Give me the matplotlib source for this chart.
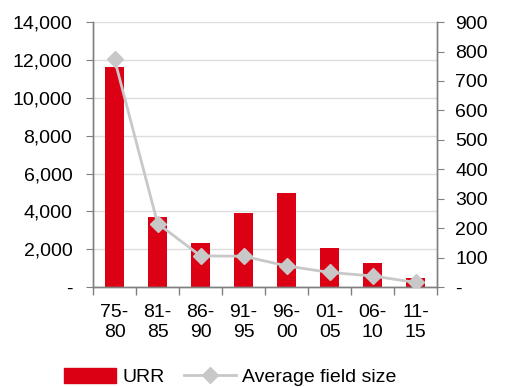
import numpy as np
import matplotlib.pyplot as plt
from matplotlib.ticker import FuncFormatter
from matplotlib.lines import Line2D
from matplotlib.patches import Patch

plt.rcParams['font.family'] = ['Liberation Sans', 'DejaVu Sans']

# 데이터
periods = ['75-\n80', '81-\n85', '86-\n90', '91-\n95', '96-\n00', '01-\n05', '06-\n10', '11-\n15']
urr = [11650, 3710, 2310, 3900, 4950, 2080, 1300, 460]
avg_field_size = [773, 216, 106, 105, 72, 50, 38, 16]

RED = '#dc0015'
GREY = '#c8c8c8'
AXIS = '#808080'
FS = 14


def fmt(v, pos):
    return '-' if v == 0 else f'{v:,.0f}'


fig = plt.figure(figsize=(5.06, 3.87), dpi=100)
ax = fig.add_axes([0.184, 0.258, 0.68, 0.685])
ax2 = ax.twinx()

x = np.arange(len(periods))
ax.bar(x, urr, width=0.45, color=RED, zorder=2)
ax2.plot(x, avg_field_size, color=GREY, lw=2, marker='D', ms=8,
         mec=GREY, mfc=GREY, zorder=3)

ax.set_xlim(-0.5, len(periods) - 0.5)
ax.set_ylim(0, 14000)
ax.set_yticks(range(0, 14001, 2000))
ax.yaxis.set_major_formatter(FuncFormatter(fmt))
ax2.set_ylim(0, 900)
ax2.set_yticks(range(0, 901, 100))
ax2.yaxis.set_major_formatter(FuncFormatter(fmt))

ax.grid(axis='y', color='#dddddd', lw=1, zorder=0)
ax.set_axisbelow(True)

# x축: 눈금은 카테고리 경계, 라벨은 가운데
ax.set_xticks(np.arange(-0.5, len(periods), 1))
ax.set_xticklabels([])
ax.set_xticks(x, minor=True)
ax.set_xticklabels(periods, minor=True, fontsize=FS, linespacing=1.25)
ax.tick_params(axis='x', which='major', length=6, color=AXIS, width=1)
ax.tick_params(axis='x', which='minor', length=0, pad=12)

for a in (ax, ax2):
    a.spines['top'].set_visible(False)
    for s in ('left', 'right', 'bottom'):
        a.spines[s].set_color(AXIS)
        a.spines[s].set_linewidth(1)
ax.tick_params(axis='y', length=5, color=AXIS, labelsize=FS, pad=10)
ax2.tick_params(axis='y', length=5, color=AXIS, labelsize=FS, pad=8)

handles = [Patch(color=RED),
           Line2D([0], [0], color=GREY, lw=2, marker='D', ms=8, mfc=GREY, mec=GREY)]
fig.legend(handles, ['URR', 'Average field size'], loc='center',
           bbox_to_anchor=(0.455, 0.025), ncol=2, frameon=False,
           fontsize=FS, handlelength=2.7, handleheight=0.8,
           columnspacing=1.0, handletextpad=0.3)

fig.savefig('out.png', dpi=100)
